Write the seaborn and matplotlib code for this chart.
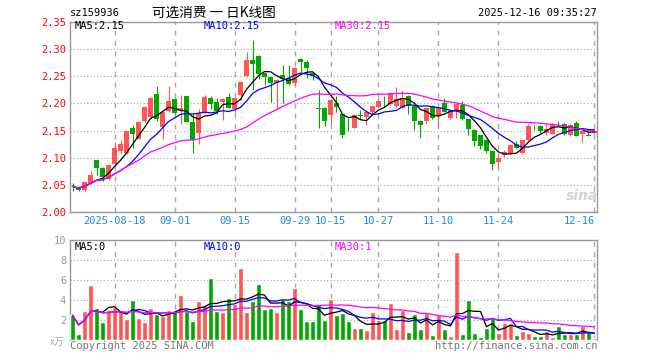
import numpy as np
import pandas as pd
import matplotlib
matplotlib.use('Agg')
import matplotlib.pyplot as plt
import seaborn as sns

sns.set_style('white')
plt.rcParams['font.family'] = ['DejaVu Sans Mono', 'Noto Sans CJK SC']

# 交易日（剔除国庆休市）
all_days = pd.bdate_range('2025-08-07', '2025-12-16')
holiday = (all_days >= '2025-10-01') & (all_days <= '2025-10-08')
dates = all_days[~holiday]

open_ = [2.048, 2.046, 2.040, 2.053, 2.095, 2.081, 2.060, 2.088, 2.113, 2.108,
         2.154, 2.135, 2.167, 2.175, 2.217, 2.157, 2.186, 2.209, 2.188, 2.213,
         2.165, 2.146, 2.183, 2.211, 2.202, 2.203, 2.212, 2.190, 2.216, 2.250,
         2.280, 2.288, 2.257, 2.248, 2.237, 2.252, 2.247, 2.237, 2.283, 2.277,
         2.257, 2.191, 2.192, 2.179, 2.200, 2.180, 2.161, 2.155, 2.179, 2.175,
         2.185, 2.194, 2.205, 2.199, 2.195, 2.192, 2.213, 2.195, 2.168, 2.168,
         2.195, 2.177, 2.201, 2.173, 2.187, 2.198, 2.171, 2.151, 2.141, 2.133,
         2.112, 2.091, 2.105, 2.109, 2.125, 2.109, 2.133, 2.157, 2.159, 2.146,
         2.144, 2.166, 2.162, 2.141, 2.163, 2.143, 2.141, 2.145]
high = [2.053, 2.047, 2.056, 2.076, 2.096, 2.082, 2.089, 2.128, 2.133, 2.149,
        2.161, 2.166, 2.196, 2.212, 2.232, 2.186, 2.232, 2.210, 2.215, 2.214,
        2.183, 2.189, 2.216, 2.213, 2.210, 2.210, 2.219, 2.211, 2.241, 2.296,
        2.317, 2.290, 2.258, 2.249, 2.246, 2.271, 2.271, 2.268, 2.284, 2.280,
        2.258, 2.225, 2.193, 2.208, 2.213, 2.181, 2.174, 2.180, 2.188, 2.185,
        2.196, 2.210, 2.213, 2.222, 2.230, 2.225, 2.216, 2.196, 2.169, 2.193,
        2.197, 2.192, 2.211, 2.188, 2.200, 2.204, 2.172, 2.152, 2.142, 2.134,
        2.113, 2.108, 2.114, 2.126, 2.131, 2.133, 2.162, 2.161, 2.160, 2.162,
        2.163, 2.168, 2.163, 2.162, 2.167, 2.149, 2.149, 2.153]
low = [2.038, 2.038, 2.038, 2.052, 2.068, 2.056, 2.059, 2.087, 2.107, 2.107,
       2.118, 2.134, 2.166, 2.174, 2.168, 2.134, 2.185, 2.180, 2.162, 2.165,
       2.108, 2.126, 2.182, 2.190, 2.180, 2.169, 2.192, 2.183, 2.207, 2.249,
       2.225, 2.245, 2.235, 2.203, 2.189, 2.201, 2.235, 2.235, 2.256, 2.247,
       2.244, 2.155, 2.159, 2.162, 2.184, 2.136, 2.150, 2.154, 2.172, 2.160,
       2.180, 2.193, 2.193, 2.198, 2.194, 2.191, 2.180, 2.151, 2.136, 2.162,
       2.171, 2.156, 2.184, 2.171, 2.173, 2.169, 2.141, 2.121, 2.116, 2.108,
       2.077, 2.082, 2.102, 2.106, 2.117, 2.106, 2.132, 2.151, 2.146, 2.141,
       2.143, 2.159, 2.141, 2.140, 2.139, 2.129, 2.139, 2.144]
close = [2.047, 2.040, 2.054, 2.068, 2.081, 2.065, 2.087, 2.117, 2.125, 2.149,
         2.144, 2.166, 2.194, 2.210, 2.171, 2.185, 2.205, 2.183, 2.192, 2.165,
         2.133, 2.182, 2.212, 2.199, 2.186, 2.209, 2.192, 2.210, 2.240, 2.280,
         2.273, 2.254, 2.248, 2.238, 2.244, 2.245, 2.236, 2.265, 2.277, 2.265,
         2.250, 2.190, 2.168, 2.207, 2.193, 2.141, 2.160, 2.179, 2.177, 2.184,
         2.195, 2.204, 2.204, 2.219, 2.209, 2.211, 2.195, 2.168, 2.161, 2.191,
         2.174, 2.191, 2.185, 2.187, 2.199, 2.171, 2.153, 2.130, 2.122, 2.112,
         2.088, 2.100, 2.111, 2.124, 2.118, 2.132, 2.159, 2.156, 2.149, 2.153,
         2.162, 2.165, 2.144, 2.161, 2.139, 2.149, 2.140, 2.150]
# 成交量（万手）
volume = [2.5, 0.6, 2.9, 5.5, 3.2, 1.8, 3.0, 3.3, 2.9, 2.1,
          4.0, 2.2, 1.8, 3.2, 2.6, 2.4, 3.0, 2.9, 4.5, 2.9,
          1.9, 3.9, 3.5, 6.2, 2.9, 2.8, 4.2, 3.6, 7.2, 2.8,
          3.9, 5.6, 3.1, 3.2, 2.8, 4.1, 3.9, 5.2, 3.1, 1.9,
          1.9, 3.6, 2.0, 4.1, 2.5, 2.7, 1.9, 1.2, 1.2, 1.0,
          2.8, 2.0, 2.0, 3.7, 1.1, 3.0, 0.8, 2.6, 1.1, 2.7,
          0.5, 2.5, 1.1, 0.4, 8.8, 0.6, 4.0, 0.7, 0.3, 1.2,
          2.2, 0.7, 1.7, 1.7, 0.5, 0.9, 0.7, 0.4, 0.4, 0.9,
          0.3, 1.4, 0.6, 0.6, 0.6, 1.4, 0.8, 0.2]

tick_dates = ['2025-08-18', '2025-09-01', '2025-09-15', '2025-09-29', '2025-10-15',
              '2025-10-27', '2025-11-10', '2025-11-24', '2025-12-16']
tick_labels = ['2025-08-18', '09-01', '09-15', '09-29', '10-15',
               '10-27', '11-10', '11-24', '12-16']

RED = '#ff5555'
GREEN = '#00a800'
GRAY = '#a8a8a8'

df = pd.DataFrame({'date': dates, 'open': open_, 'high': high, 'low': low,
                   'close': close, 'volume': volume})
df['x'] = np.arange(len(df))
df['up'] = df['close'] > df['open']
for n in (5, 10, 30):
    df[f'ma{n}'] = df['close'].rolling(n, min_periods=1).mean()
    df[f'vma{n}'] = df['volume'].rolling(n, min_periods=1).mean()
tick_idx = [int(np.where(df['date'] == pd.Timestamp(d))[0][0]) for d in tick_dates]

W, H = 660, 360
fig = plt.figure(figsize=(W / 100, H / 100), dpi=100)
ax = fig.add_axes([70.3 / W, 1 - 211.7 / H, 527 / W, 189.4 / H])
axv = fig.add_axes([70.3 / W, 1 - 340.3 / H, 527 / W, 100 / H])

# K线
colors = np.where(df['up'], RED, GREEN)
ax.vlines(df['x'], df['low'], df['high'], colors=colors, lw=0.8, zorder=3)
body_low = np.minimum(df['open'], df['close'])
body_h = np.maximum((df['close'] - df['open']).abs(), 0.0007)
ax.bar(df['x'], body_h, bottom=body_low, width=0.74, color=colors, lw=0, zorder=3)

sns.lineplot(data=df, x='x', y='ma5', ax=ax, color='black', lw=0.9, zorder=4)
sns.lineplot(data=df, x='x', y='ma10', ax=ax, color='#0000ff', lw=0.9, zorder=4)
sns.lineplot(data=df, x='x', y='ma30', ax=ax, color='#ff00ff', lw=0.9, zorder=4)

# 成交量（每根柱子按涨跌着色）
sns.barplot(data=df, x='x', y='volume', hue='x', palette=list(colors),
            width=0.83, saturation=1, errorbar=None, legend=False,
            ax=axv, zorder=3)
sns.lineplot(x=df['x'], y=df['vma5'], ax=axv, color='black', lw=0.9, zorder=4)
sns.lineplot(x=df['x'], y=df['vma10'], ax=axv, color='#0000ff', lw=0.9, zorder=4)
sns.lineplot(x=df['x'], y=df['vma30'], ax=axv, color='#ff00ff', lw=0.9, zorder=4)

for a in (ax, axv):
    a.set_xlim(-0.37, 87.47)
    a.set_xticks(tick_idx)
    a.set_xlabel('')
    a.set_ylabel('')
    a.grid(axis='x', color=GRAY, ls=(0, (3.5, 4)), lw=1)
    a.grid(axis='y', color=GRAY, ls=(0, (1, 2)), lw=0.8)
    a.tick_params(length=0, labelsize=7.5, pad=3)
    for s in a.spines.values():
        s.set_color('#999999')
        s.set_linewidth(1)
axv.spines['bottom'].set_visible(False)

ax.set_ylim(2.00, 2.35)
ax.set_yticks(np.arange(2.00, 2.351, 0.05))
ax.set_yticklabels([f'{v:.2f}' for v in np.arange(2.00, 2.351, 0.05)], color='red')
ax.set_xticklabels(tick_labels, color='#1a8ce0')
ax.get_xticklabels()[-1].set_ha('right')

axv.set_ylim(0, 10)
axv.set_yticks([2, 4, 6, 8, 10])
axv.set_yticklabels(['2', '4', '6', '8', '10'], color='#999999')
axv.set_xticklabels([])

def px(x, y, s, **kw):
    fig.text(x / W, 1 - y / H, s, va='center', **kw)

px(70, 13, 'sz159936', fontsize=7.5, color='black')
px(214, 13, '可选消费 一 日K线图', fontsize=9.8, ha='center',
   family=['Noto Sans CJK SC', 'DejaVu Sans'], color='black')
px(597, 13, '2025-12-16 09:35:27', fontsize=7.5, ha='right', color='black')

px(75, 26, 'MA5:2.15', fontsize=7.5, color='black')
px(204, 26, 'MA10:2.15', fontsize=7.5, color='#0000ff')
px(335, 26, 'MA30:2.15', fontsize=7.5, color='#ff00ff')
px(75, 247, 'MA5:0', fontsize=7.5, color='black')
px(204, 247, 'MA10:0', fontsize=7.5, color='#0000ff')
px(335, 247, 'MA30:1', fontsize=7.5, color='#ff00ff')

px(64, 342, 'x万', fontsize=7, ha='right', color='#aaaaaa',
   family=['Noto Sans CJK SC', 'DejaVu Sans'], style='italic')
px(70, 346, 'Copyright 2025 SINA.COM', fontsize=7.5, color='#777777')
px(597, 346, 'http://finance.sina.com.cn', fontsize=7.5, ha='right', color='#777777')
px(582, 196, 'sina', fontsize=10, ha='center', color='#d4d4d4',
   family='DejaVu Sans', weight='bold', style='italic')

fig.savefig('out.png', dpi=100)
